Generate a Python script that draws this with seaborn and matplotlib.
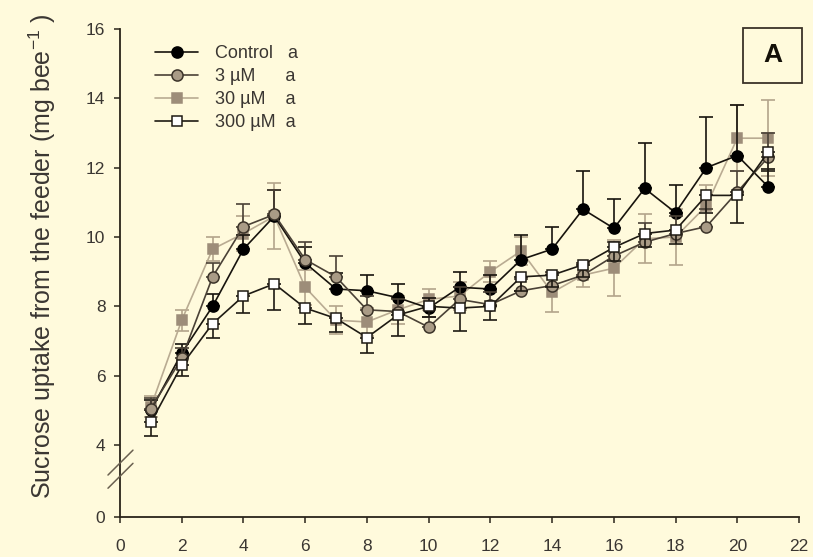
import matplotlib
matplotlib.use("Agg")
import matplotlib.pyplot as plt
from matplotlib.patches import Rectangle
from matplotlib.lines import Line2D
import numpy as np
import seaborn as sns

# data (mean sucrose uptake per day)
days = list(range(1, 22))

control = [5.0, 6.65, 8.0, 9.65, 10.6, 9.25, 8.5, 8.45, 8.25, 7.95, 8.55,
           8.5, 9.35, 9.65, 10.8, 10.25, 11.4, 10.7, 12.0, 12.35, 11.45]
control_err = [0.3, 0.25, 0.35, 0.4, 0.75, 0.45, 0.45, 0.45, 0.4, 0.3, 0.45,
               0.4, 0.7, 0.65, 1.1, 0.85, 1.3, 0.8, 1.45, 1.45, 0.5]

um3 = [5.05, 6.5, 8.85, 10.3, 10.65, 9.35, 8.85, 7.9, 7.85, 7.4, 8.2,
       8.05, 8.45, 8.6, 8.9, 9.45, 9.85, 10.1, 10.3, 11.3, 12.3]
um3_err = [0.3, 0.3, 0.4, 0.65, 0.7, 0.5, 0.6, 0.4, 0.35, 0.3, 0.35,
           0.35, 0.35, 0.4, 0.35, 0.4, 0.55, 0.5, 0.5, 0.6, 0.7]

um30 = [5.1, 7.6, 9.65, 10.1, 10.6, 8.55, 7.6, 7.55, 7.9, 8.2, 8.3,
        9.0, 9.6, 8.4, 8.9, 9.1, 9.95, 10.0, 10.9, 12.85, 12.85]
um30_err = [0.3, 0.3, 0.35, 0.5, 0.95, 0.5, 0.4, 0.4, 0.4, 0.3, 0.4,
            0.3, 0.4, 0.55, 0.35, 0.8, 0.7, 0.8, 0.6, 0.95, 1.1]

um300 = [4.65, 6.3, 7.5, 8.3, 8.65, 7.95, 7.65, 7.1, 7.75, 8.0, 7.95,
         8.0, 8.85, 8.9, 9.2, 9.7, 10.1, 10.2, 11.2, 11.2, 12.45]
um300_err = [0.38, 0.3, 0.4, 0.5, 0.75, 0.45, 0.4, 0.45, 0.6, 0.3, 0.65,
             0.4, 0.4, 0.35, 0.35, 0.4, 0.4, 0.4, 0.5, 0.8, 0.55]

labels = ["Control   a", "3 \u00b5M      a", "30 \u00b5M    a", "300 \u00b5M  a"]
xticks = list(range(0, 23, 2))
yticks = [0, 4, 6, 8, 10, 12, 14, 16]

bg = "#fffadc"
ink = "#2a241a"

sns.set_style("ticks", rc={"axes.facecolor": bg, "figure.facecolor": bg,
                           "axes.edgecolor": ink, "xtick.color": ink,
                           "ytick.color": ink})
plt.rcParams["font.family"] = ["Liberation Sans", "DejaVu Sans"]
plt.rcParams["mathtext.default"] = "regular"

# broken y axis: 0-4 compressed
k = 0.519
def fwd(y):
    y = np.asarray(y, dtype=float)
    return np.where(y >= 4, y, 4 - (4 - y) * k)

def inv(y):
    y = np.asarray(y, dtype=float)
    return np.where(y >= 4, y, 4 - (4 - y) / k)

fig, ax = plt.subplots(figsize=(8.13, 5.57), dpi=100)
fig.subplots_adjust(left=0.1476, right=0.9828, bottom=0.0718, top=0.948)
ax.set_yscale("function", functions=(fwd, inv))

zero = [0] * len(days)
series = [
    # values, err (lower, upper), line, face, edge, marker, ms, ecolor, zorder
    (um30, (um30_err, um30_err), "#b9ab92", "#9d8d79", "#9d8d79", "s", 7, "#b3a48b", 2),
    (control, (zero, control_err), "#17130d", "#000000", "#000000", "o", 8, "#17130d", 3),
    (um3, (zero, um3_err), "#4a4136", "#a99b86", "#3b3329", "o", 8, "#4a4136", 4),
    (um300, (um300_err, zero), "#1e1a13", "#ffffff", "#1e1a13", "s", 7.5, "#1e1a13", 5),
]
order = [1, 2, 0, 3]
handles = []
for vals, err, lc, fc, ec, mk, ms, ecol, z in series:
    ax.errorbar(days, vals, yerr=[err[0], err[1]], fmt="none", ecolor=ecol,
                elinewidth=1.2, capsize=5, capthick=1.2, zorder=z)
    sns.lineplot(x=days, y=vals, ax=ax, color=lc, linewidth=1.2, marker=mk,
                 markersize=ms, markerfacecolor=fc, markeredgecolor=ec,
                 markeredgewidth=1.1, zorder=z + 0.5)
    handles.append(Line2D([], [], color=lc, linewidth=1.2, marker=mk,
                          markersize=ms, markerfacecolor=fc,
                          markeredgecolor=ec, markeredgewidth=1.1))

ax.set_xlim(0, 22)
ax.set_ylim(0, 16)
ax.set_xticks(xticks)
ax.set_yticks(yticks)
ax.tick_params(axis="both", direction="out", length=4.5, width=1.1,
               labelsize=12.5, labelcolor="#3a3632")
ax.tick_params(axis="x", pad=11)
ax.tick_params(axis="y", pad=6)
ax.set_xlabel("")
ax.set_ylabel("Sucrose uptake from the feeder (mg bee$^{-1}$ )",
              fontsize=18, color="#3a3632")
ax.yaxis.set_label_coords(-0.092, 0.535)
sns.despine(ax=ax)
for s in ["left", "bottom"]:
    ax.spines[s].set_linewidth(1.3)

# axis break marks
for y0 in (0.086, 0.059):
    ax.plot([-0.0177, 0.0191], [y0, y0 + 0.051], transform=ax.transAxes,
            color="#6a6050", linewidth=1.1, clip_on=False, zorder=6)

leg = ax.legend([handles[i] for i in order], labels, loc="upper left",
                bbox_to_anchor=(0.0515, 0.967), frameon=False, fontsize=13,
                handlelength=2.4, handletextpad=0.9, labelspacing=0.33,
                borderpad=0, borderaxespad=0)
for t in leg.get_texts():
    t.set_color("#3a3632")

# panel letter
ax.add_patch(Rectangle((0.9175, 0.889), 0.087, 0.113, transform=ax.transAxes,
                       fill=False, edgecolor="#3a3228", linewidth=1.3,
                       clip_on=False))
ax.text(0.961, 0.946, "A", transform=ax.transAxes, ha="center", va="center",
        fontsize=19, fontweight="bold", color="#141008")

fig.savefig("out.png", dpi=100, facecolor=bg)
